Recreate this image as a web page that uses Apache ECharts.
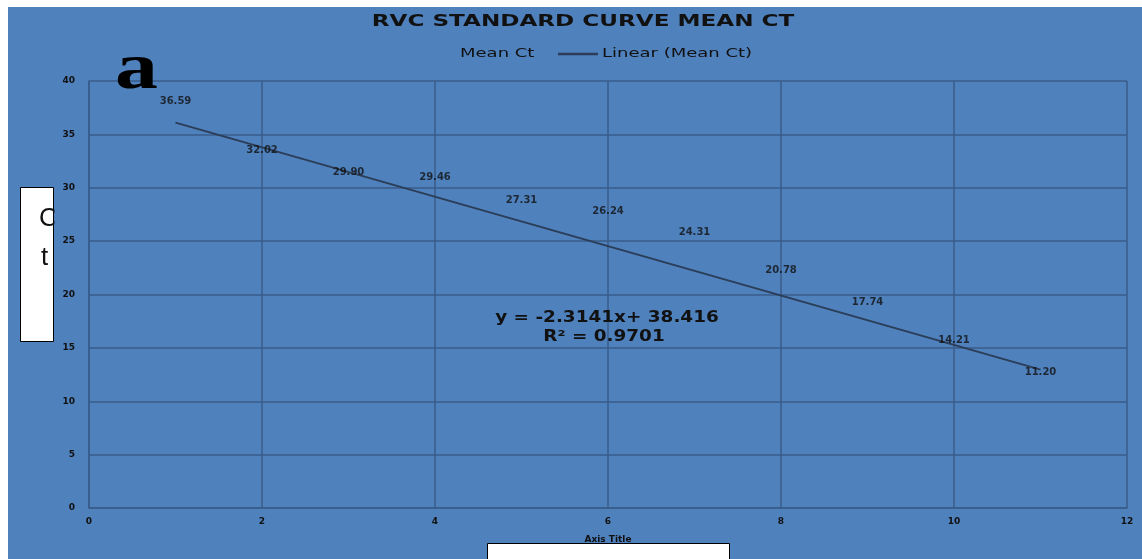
<!DOCTYPE html>
<html>
<head>
<meta charset="utf-8">
<script src="https://cdn.jsdelivr.net/npm/echarts@6/dist/echarts.min.js"></script>
<style>html,body{margin:0;padding:0;background:#fff;}#chart{width:1142px;height:559px;}</style>
</head>
<body>
<div id="chart"></div>
<script>
// ---- data ----
const X_VALUES = [1, 2, 3, 4, 5, 6, 7, 8, 9, 10, 11];
const MEAN_CT = [36.59, 32.02, 29.90, 29.46, 27.31, 26.24, 24.31, 20.78, 17.74, 14.21, 11.20];
const TREND_SLOPE = -2.3141;
const TREND_INTERCEPT = 38.416;
const TREND_R2 = 0.9701;
const X_TICK_INTERVAL = 2;
const Y_TICK_INTERVAL = 5;
const TITLE = 'RVC STANDARD CURVE MEAN CT';
const SERIES_NAME = 'Mean Ct';
const TREND_NAME = 'Linear (Mean Ct)';
const X_AXIS_TITLE = 'Axis Title';

const BG = '#4F81BD';
const GRID_COLOR = '#385d8a';
const TREND_COLOR = '#2b3d57';
const TEXT_DARK = '#111111';

const pointData = X_VALUES.map((x, i) => [x, MEAN_CT[i]]);
const xFirst = X_VALUES[0], xLast = X_VALUES[X_VALUES.length - 1];
const trendData = [[xFirst, TREND_INTERCEPT + TREND_SLOPE * xFirst], [xLast, TREND_INTERCEPT + TREND_SLOPE * xLast]];
const eqText = 'y = ' + TREND_SLOPE.toFixed(4) + 'x+ ' + TREND_INTERCEPT.toFixed(3);
const r2Text = 'R² = ' + TREND_R2.toFixed(4);

const chart = echarts.init(document.getElementById('chart'), null, {renderer: 'canvas'});

function stretchedText(text, x, y, size, weight, align, sx, color, z, family) {
  return {
    type: 'text', x: x, y: y, scaleX: sx, z: z || 5,
    style: {
      text: text, fill: color || TEXT_DARK,
      font: (weight || 'normal') + ' ' + size + 'px ' + (family || '"DejaVu Sans"'),
      align: align || 'left', verticalAlign: 'middle'
    }
  };
}

const option = {
  backgroundColor: BG,
  animation: false,
  grid: {left: 89, right: 15, top: 81, bottom: 51, containLabel: false},
  xAxis: {
    type: 'value', min: 0, max: 12, interval: X_TICK_INTERVAL,
    name: X_AXIS_TITLE, nameLocation: 'middle', nameGap: 27,
    nameTextStyle: {color: TEXT_DARK, fontSize: 9, fontWeight: 'bold', fontFamily: 'DejaVu Sans'},
    axisLine: {show: true, lineStyle: {color: GRID_COLOR, width: 1.5}},
    axisTick: {show: false},
    axisLabel: {color: TEXT_DARK, fontSize: 9, fontWeight: 'bold', fontFamily: 'DejaVu Sans', margin: 9},
    splitLine: {show: true, lineStyle: {color: GRID_COLOR, width: 1.5}}
  },
  yAxis: {
    type: 'value', min: 0, max: 40, interval: Y_TICK_INTERVAL,
    axisLine: {show: true, lineStyle: {color: GRID_COLOR, width: 1.5}},
    axisTick: {show: false},
    axisLabel: {color: TEXT_DARK, fontSize: 9, fontWeight: 'bold', fontFamily: 'DejaVu Sans', margin: 14},
    splitLine: {show: true, lineStyle: {color: GRID_COLOR, width: 1.5}}
  },
  series: [
    {
      name: SERIES_NAME, type: 'scatter', data: pointData,
      symbolSize: 2, itemStyle: {color: 'rgba(0,0,0,0)'},
      label: {
        show: true, position: 'top', distance: 10,
        color: TEXT_DARK, fontSize: 10, fontWeight: 'bold', fontFamily: 'DejaVu Sans',
        formatter: p => p.value[1].toFixed(2)
      },
      z: 4
    },
    {
      name: TREND_NAME, type: 'line', data: trendData, showSymbol: false,
      lineStyle: {color: TREND_COLOR, width: 2}, itemStyle: {color: TREND_COLOR}, z: 3
    }
  ],
  graphic: [
    // white page borders top/left
    {type: 'rect', shape: {x: 0, y: 0, width: 1142, height: 7}, style: {fill: '#fff'}, z: 1},
    {type: 'rect', shape: {x: 0, y: 0, width: 8, height: 559}, style: {fill: '#fff'}, z: 1},
    // title
    stretchedText(TITLE, 583, 22, 15, 'bold', 'center', 1.54),
    // legend
    stretchedText(SERIES_NAME, 460, 54, 12, 'normal', 'left', 1.5),
    {type: 'line', shape: {x1: 558, y1: 54, x2: 598, y2: 54}, style: {stroke: TREND_COLOR, lineWidth: 2.5}, z: 5},
    stretchedText(TREND_NAME, 602, 54, 12, 'normal', 'left', 1.5),
    // big "a" panel letter
    {type: 'text', x: 115, y: 71, scaleX: 1.3, z: 6, style: {text: 'a', fill: '#000', font: 'bold 66px "Liberation Serif"', align: 'left', verticalAlign: 'middle', shadowColor: 'rgba(0,0,0,0.55)', shadowBlur: 3, shadowOffsetX: 1, shadowOffsetY: 1}},
    // trendline equation
    stretchedText(eqText, 607, 318, 16, 'bold', 'center', 1.15),
    stretchedText(r2Text, 604, 337, 16, 'bold', 'center', 1.15),
    // left white box with clipped "C t"
    {type: 'rect', shape: {x: 20.5, y: 187.5, width: 33, height: 154}, style: {fill: '#fff', stroke: '#000', lineWidth: 1}, z: 6},
    {type: 'text', x: 39, y: 219, z: 7, style: {text: 'C', fill: '#111', font: '26px "Liberation Sans"', align: 'left', verticalAlign: 'middle'}},
    {type: 'text', x: 41, y: 258, z: 7, style: {text: 't', fill: '#111', font: '26px "Liberation Sans"', align: 'left', verticalAlign: 'middle'}},
    {type: 'rect', shape: {x: 54.5, y: 195, width: 3.5, height: 45}, style: {fill: BG}, z: 8},
    // bottom white box
    {type: 'rect', shape: {x: 487.5, y: 543.5, width: 242, height: 20}, style: {fill: '#fff', stroke: '#000', lineWidth: 1}, z: 6}
  ]
};
chart.setOption(option);
</script>
</body>
</html>
